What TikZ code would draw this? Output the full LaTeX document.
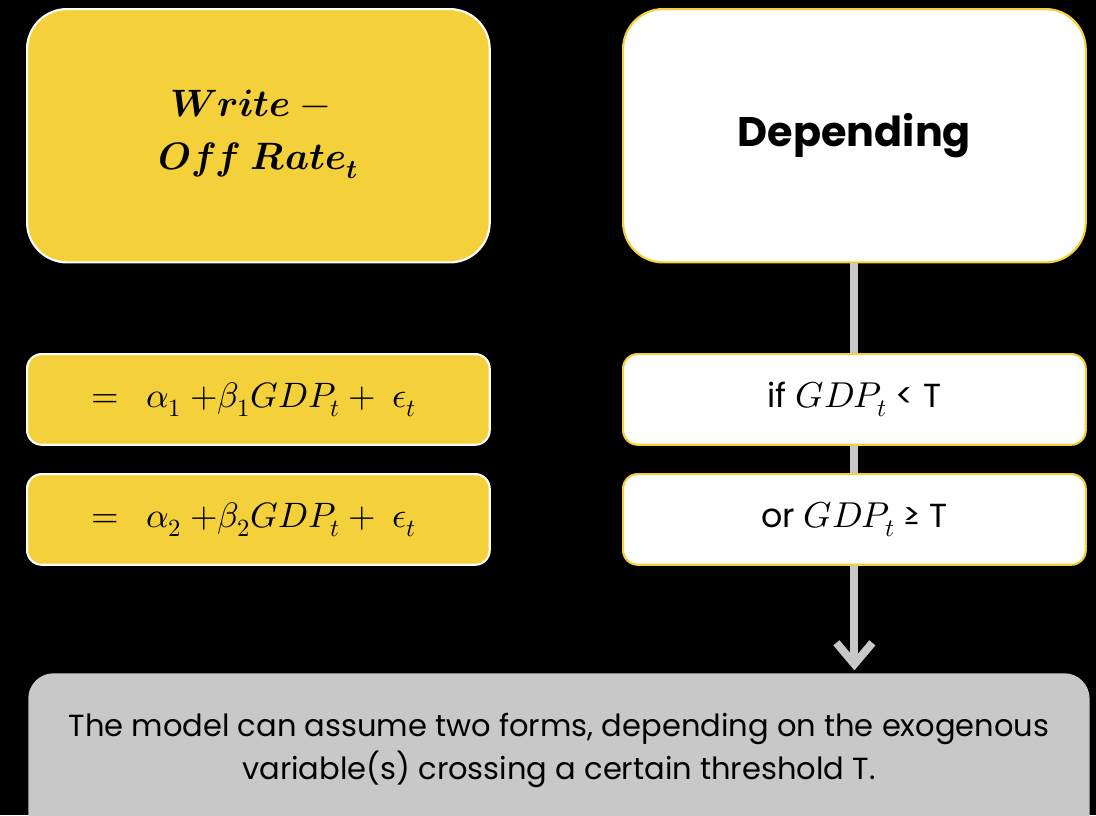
\documentclass[tikz,border=0pt]{standalone}
\usepackage{fontspec}
\usepackage{unicode-math}
\setmainfont{Poppins}
\setmathfont[Scale=1.08]{Latin Modern Math}
\usetikzlibrary{arrows.meta}
\definecolor{gold}{HTML}{F4D03A}
\definecolor{lightgrey}{HTML}{C8C8C8}
\pgfdeclarelayer{bg}
\pgfdeclarelayer{links}
\pgfsetlayers{bg,links,main}
\tikzset{
  yellowbox/.style={draw=white, fill=gold, line width=1.6pt, anchor=north west, inner sep=0pt},
  whitebox/.style={draw=gold, fill=white, line width=1.6pt, anchor=north west, inner sep=0pt},
  bigbox/.style={minimum width=347pt, minimum height=190pt, rounded corners=30pt},
  smallbox/.style={minimum width=347pt, minimum height=68pt, rounded corners=11pt},
  link/.style={draw=lightgrey, line width=6pt, -{Straight Barb[length=16pt,width=27pt,line width=6pt]}},
}
\begin{document}
\begin{tikzpicture}[x=0.75pt,y=-0.75pt]
\begin{pgfonlayer}{bg}
  \fill[black] (0,0) rectangle (1096,815);
\end{pgfonlayer}
\useasboundingbox (0,0) rectangle (1096,815);

% top row
\node[yellowbox, bigbox] (rate) at (26,8) {};
\node[font=\fontsize{26.5}{35}\selectfont, align=center] (ratetxt) at ([xshift=-6pt,yshift=1pt]rate.center)
  {$\symbfit{Write\ -}$\\[5pt]\hspace*{12pt}$\symbfit{Off\ Rate_t}$};
\node[whitebox, bigbox, font=\fontsize{31}{36}\selectfont\bfseries] (dep) at (622,8)
  {Depending};

% regime equations
\node[yellowbox, smallbox, font=\fontsize{24.5}{30}\selectfont] (eqa) at (26,353)
  {\hspace*{-7pt}$=\ \ \alpha_1\ {+}\beta_1 GDP_t+\ \epsilon_t$};
\node[yellowbox, smallbox, font=\fontsize{24.5}{30}\selectfont] (eqb) at (26,473)
  {\hspace*{-7pt}$=\ \ \alpha_2\ {+}\beta_2 GDP_t+\ \epsilon_t$};

% threshold conditions
\node[whitebox, smallbox, font=\fontsize{25}{30}\selectfont] (lo) at (622,353)
  {if $GDP_t$ < T};
\node[whitebox, smallbox, font=\fontsize{25}{30}\selectfont] (hi) at (622,473)
  {or $GDP_t$ ≥ T};

% summary panel
\node[fill=lightgrey, rounded corners=19pt, anchor=north west, inner sep=0pt,
      minimum width=796pt, minimum height=150pt] (note) at (28,673) {};
\node[font=\fontsize{22.9}{32}\selectfont, align=center, anchor=center] (notetxt)
  at ([yshift=-58pt]note.north)
  {The model can assume two forms, depending on the exogenous\\variable(s) crossing a certain threshold T.};

\begin{pgfonlayer}{links}
  \draw[link] (dep.south) -- ([yshift=2pt]dep.south |- note.north);
\end{pgfonlayer}
\end{tikzpicture}
\end{document}
